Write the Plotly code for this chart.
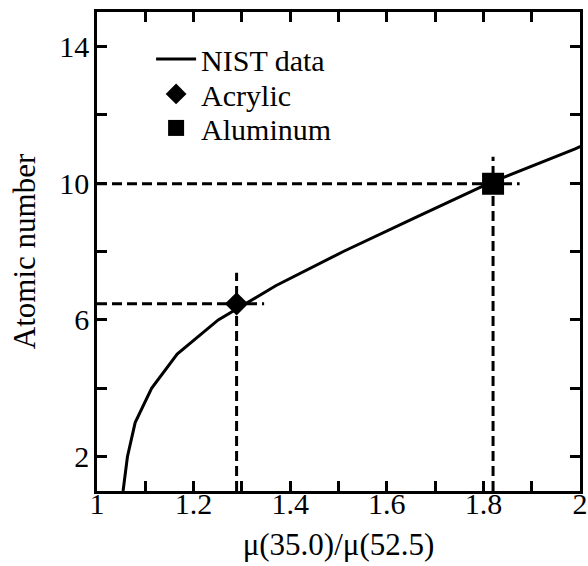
import plotly.graph_objects as go

# NIST curve: ratio mu(35.0)/mu(52.5) vs atomic number
nist_ratio = [1.054, 1.063, 1.079, 1.113, 1.166, 1.251, 1.37, 1.51, 1.66, 1.812, 1.99, 2.15]
nist_z = [1, 2, 3, 4, 5, 6, 7, 8, 9, 10, 11, 12]

acrylic_ratio = [1.289]
acrylic_z = [6.47]
aluminum_ratio = [1.82]
aluminum_z = [9.98]

# dashed read-off guides: (x-end of horizontal, y-top of vertical)
acrylic_guide_x_end = 1.346
acrylic_guide_y_top = 7.38
aluminum_guide_x_end = 1.875
aluminum_guide_y_top = 10.77

x_tickvals = [1.0, 1.1, 1.2, 1.3, 1.4, 1.5, 1.6, 1.7, 1.8, 1.9, 2.0]
x_ticktext = ["1", "", "1.2", "", "1.4", "", "1.6", "", "1.8", "", "2"]
y_tickvals = [2, 4, 6, 8, 10, 12, 14]
y_ticktext = ["2", "", "6", "", "10", "", "14"]

x_range = [1, 2]
y_range = [1, 15]

FONT = "Liberation Serif, Times New Roman, serif"
dash = "10px,5px"

fig = go.Figure()

for (xr, zr, xe, yt) in [
    (acrylic_ratio[0], acrylic_z[0], acrylic_guide_x_end, acrylic_guide_y_top),
    (aluminum_ratio[0], aluminum_z[0], aluminum_guide_x_end, aluminum_guide_y_top),
]:
    fig.add_trace(go.Scatter(x=[x_range[0], xe], y=[zr, zr], mode="lines",
                             line=dict(color="black", width=3, dash=dash),
                             showlegend=False, hoverinfo="skip"))
    fig.add_trace(go.Scatter(x=[xr, xr], y=[y_range[0], yt], mode="lines",
                             line=dict(color="black", width=3, dash=dash),
                             showlegend=False, hoverinfo="skip"))

fig.add_trace(go.Scatter(x=nist_ratio, y=nist_z, mode="lines", name="NIST data",
                         line=dict(color="black", width=3), legend="legend"))
fig.add_trace(go.Scatter(x=acrylic_ratio, y=acrylic_z, mode="markers", name="Acrylic",
                         marker=dict(symbol="diamond", size=18, color="black"),
                         legend="legend2"))
fig.add_trace(go.Scatter(x=aluminum_ratio, y=aluminum_z, mode="markers", name="Aluminum",
                         marker=dict(symbol="square", size=22, color="black"),
                         legend="legend3"))

axis_common = dict(
    showgrid=False, zeroline=False, showline=True, linecolor="black", linewidth=2.5,
    mirror="ticks", ticks="inside", ticklen=10, tickwidth=2.5, tickcolor="black",
    tickfont=dict(family=FONT, size=30, color="black"), automargin=False,
)

leg_common = dict(xanchor="left", yanchor="middle",
                  font=dict(family=FONT, size=30, color="black"),
                  bgcolor="rgba(0,0,0,0)", itemwidth=40)

fig.update_layout(
    width=588, height=566,
    margin=dict(l=97, r=8, t=12, b=75),
    paper_bgcolor="white", plot_bgcolor="white",
    font=dict(family=FONT, color="black"),
    xaxis=dict(range=x_range, tickvals=x_tickvals, ticktext=x_ticktext,
               ticklabelstandoff=-16,
               title=dict(text="μ(35.0)/μ(52.5)", font=dict(family=FONT, size=31)),
               **axis_common),
    yaxis=dict(range=y_range, tickvals=y_tickvals, ticktext=y_ticktext,
               ticklabelstandoff=-1,
               title=dict(text="Atomic number", font=dict(family=FONT, size=31)),
               **axis_common),
    legend=dict(x=0.112, y=0.902, **leg_common),
    legend2=dict(x=0.112, y=0.829, **leg_common),
    legend3=dict(x=0.112, y=0.758, **leg_common),
    showlegend=True,
)

fig.write_html("out.html", config={"displayModeBar": False},
               post_script="document.body.style.margin='0';document.body.style.overflow='hidden';")
